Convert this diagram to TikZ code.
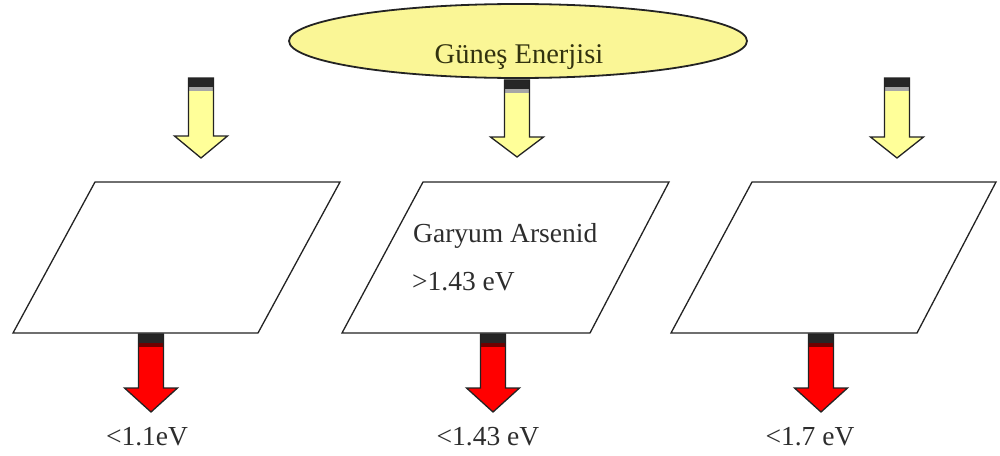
\documentclass[tikz,border=0pt]{standalone}
\usepackage{fontspec}
\setmainfont{Liberation Serif}
\usetikzlibrary{shapes.geometric}
\definecolor{sunyellow}{RGB}{250,246,150}
\definecolor{arrowyellow}{RGB}{255,255,153}
\definecolor{arrowred}{RGB}{255,0,0}
\definecolor{bandred}{RGB}{110,0,0}
\definecolor{linegray}{RGB}{35,35,35}
\definecolor{textgray}{RGB}{45,45,45}
\definecolor{suntext}{RGB}{50,50,15}
\newcommand\blockarrow[6]{%
  \fill[#5] (#1-12.5,#2) -- (#1+12.5,#2) -- (#1+12.5,#3) -- (#1+26.5,#3) -- (#1,#4) -- (#1-26.5,#3) -- (#1-12.5,#3) -- cycle;
  \fill[black!85] (#1-12.5,#2) rectangle (#1+12.5,#2+9);
  \fill[#6] (#1-12.5,#2+9) rectangle (#1+12.5,#2+13);
  \draw[arrowline] (#1-12.5,#2) -- (#1+12.5,#2) -- (#1+12.5,#3) -- (#1+26.5,#3) -- (#1,#4) -- (#1-26.5,#3) -- (#1-12.5,#3) -- cycle;
}
\begin{document}
\begin{tikzpicture}[x=1pt,y=-1pt,
  arrowline/.style={draw=linegray,line width=1.3pt,line join=miter},
  panel/.style={draw=linegray,line width=1.3pt,fill=white},
  lbl/.style={font=\fontsize{27.5}{32}\selectfont,text=textgray,inner sep=0pt},
  sun/.style={ellipse,draw=linegray,line width=1.8pt,fill=sunyellow,minimum width=458pt,minimum height=74pt,inner sep=0pt}]
\useasboundingbox (0,0) rectangle (1000,455);
% sun ellipse
\node[sun] (sun) at (518,41) {};
\node[lbl,anchor=base,text=suntext,font=\fontsize{28.5}{32}\selectfont] (suntxt) at (519,63) {Güneş Enerjisi};
% yellow arrows
\blockarrow{201}{78}{136}{158}{arrowyellow}{gray!70}
\blockarrow{517}{80}{137}{157}{arrowyellow}{gray!70}
\blockarrow{897}{78}{137}{158}{arrowyellow}{gray!70}
% panels
\draw[panel] (95,182) coordinate (p1a) -- (340,182) -- (258,333) -- (13,333) -- cycle;
\draw[panel] (423,182) coordinate (p2a) -- (669,182) -- (590,333) -- (342,333) -- cycle;
\draw[panel] (752,182) coordinate (p3a) -- (996,182) -- (917,333) -- (671,333) -- cycle;
\node[lbl,anchor=base west] (gaas) at (413,242) {Garyum Arsenid};
\node[lbl,anchor=base west] (gaev) at (412,290) {>1.43 eV};
% red arrows
\blockarrow{151}{334}{388}{412}{arrowred}{bandred}
\blockarrow{493}{334}{388}{412}{arrowred}{bandred}
\blockarrow{821}{334}{388}{412}{arrowred}{bandred}
% bottom labels
\node[lbl,anchor=base] (l1) at (147,445) {<1.1eV};
\node[lbl,anchor=base] (l2) at (488,445) {<1.43 eV};
\node[lbl,anchor=base] (l3) at (810,445) {<1.7 eV};
\end{tikzpicture}
\end{document}
